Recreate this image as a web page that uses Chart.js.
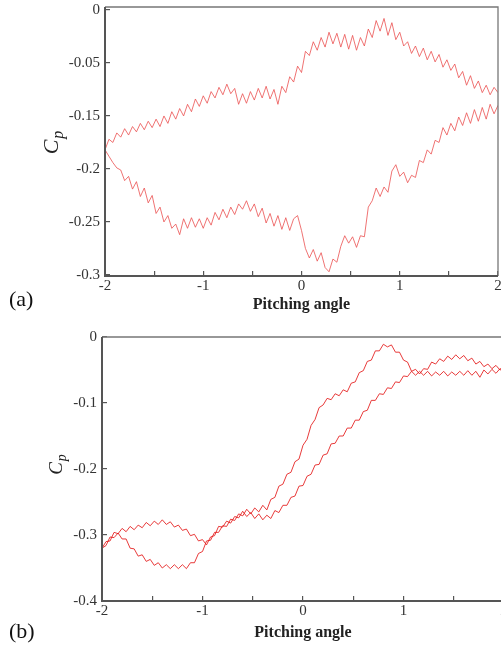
<!DOCTYPE html>
<html><head><meta charset="utf-8">
<script src="https://cdn.jsdelivr.net/npm/chart.js@4/dist/chart.umd.min.js"></script>
<style>
html,body{margin:0;padding:0;background:#fff;width:501px;height:648px;overflow:hidden;position:relative}
#ca{position:absolute;left:0;top:0}
#cb{position:absolute;left:0;top:320px}
</style></head><body>
<canvas id="ca" width="501" height="320"></canvas>
<canvas id="cb" width="506" height="328"></canvas>
<script>
// ---------- data ----------
const pitchAngles = Array.from({length:101}, (_, i) => +(-2 + i * 0.04).toFixed(2));

const cpA_upper = [
-0.182,-0.172,-0.175,-0.166,-0.170,-0.162,-0.168,-0.160,-0.165,-0.157,
-0.163,-0.155,-0.161,-0.153,-0.160,-0.150,-0.157,-0.146,-0.153,-0.143,
-0.150,-0.139,-0.146,-0.134,-0.141,-0.131,-0.138,-0.127,-0.133,-0.123,
-0.130,-0.120,-0.129,-0.124,-0.139,-0.129,-0.138,-0.127,-0.135,-0.124,
-0.133,-0.122,-0.134,-0.125,-0.139,-0.122,-0.128,-0.113,-0.118,-0.103,
-0.109,-0.089,-0.093,-0.080,-0.088,-0.076,-0.085,-0.071,-0.082,-0.072,
-0.085,-0.073,-0.087,-0.074,-0.088,-0.076,-0.084,-0.068,-0.076,-0.060,
-0.070,-0.058,-0.074,-0.062,-0.078,-0.071,-0.084,-0.080,-0.091,-0.084,
-0.094,-0.086,-0.097,-0.089,-0.099,-0.092,-0.104,-0.097,-0.107,-0.101,
-0.114,-0.108,-0.121,-0.112,-0.124,-0.117,-0.128,-0.121,-0.130,-0.123,
-0.128];

const cpA_lower = [
-0.182,-0.188,-0.194,-0.199,-0.201,-0.211,-0.207,-0.219,-0.212,-0.226,
-0.218,-0.232,-0.225,-0.242,-0.236,-0.250,-0.244,-0.256,-0.252,-0.262,
-0.247,-0.256,-0.246,-0.255,-0.247,-0.256,-0.246,-0.253,-0.241,-0.248,
-0.238,-0.246,-0.236,-0.243,-0.233,-0.238,-0.230,-0.240,-0.233,-0.245,
-0.237,-0.251,-0.242,-0.254,-0.244,-0.257,-0.246,-0.258,-0.247,-0.244,
-0.258,-0.275,-0.284,-0.276,-0.287,-0.279,-0.293,-0.297,-0.285,-0.288,
-0.273,-0.263,-0.270,-0.264,-0.274,-0.263,-0.264,-0.236,-0.230,-0.218,
-0.226,-0.217,-0.222,-0.202,-0.196,-0.207,-0.203,-0.213,-0.206,-0.208,
-0.192,-0.194,-0.182,-0.186,-0.173,-0.175,-0.161,-0.168,-0.157,-0.164,
-0.151,-0.159,-0.147,-0.157,-0.144,-0.155,-0.142,-0.153,-0.139,-0.148,
-0.140];

const cpB_branch1 = [
-0.320,-0.310,-0.309,-0.296,-0.298,-0.290,-0.295,-0.287,-0.292,-0.285,
-0.289,-0.281,-0.286,-0.279,-0.284,-0.277,-0.284,-0.280,-0.288,-0.285,
-0.293,-0.291,-0.301,-0.299,-0.309,-0.307,-0.315,-0.303,-0.301,-0.287,
-0.288,-0.279,-0.282,-0.272,-0.274,-0.264,-0.272,-0.266,-0.275,-0.268,
-0.277,-0.270,-0.275,-0.263,-0.266,-0.255,-0.255,-0.243,-0.241,-0.226,
-0.225,-0.211,-0.208,-0.194,-0.193,-0.179,-0.177,-0.162,-0.161,-0.150,
-0.150,-0.138,-0.138,-0.126,-0.126,-0.113,-0.111,-0.096,-0.096,-0.086,
-0.087,-0.077,-0.078,-0.068,-0.069,-0.059,-0.060,-0.052,-0.058,-0.052,
-0.058,-0.052,-0.059,-0.053,-0.058,-0.052,-0.059,-0.053,-0.058,-0.052,
-0.058,-0.051,-0.058,-0.052,-0.061,-0.050,-0.056,-0.049,-0.055,-0.048,
-0.050];

const cpB_branch2 = [
-0.320,-0.316,-0.303,-0.304,-0.297,-0.306,-0.306,-0.320,-0.321,-0.332,
-0.330,-0.340,-0.337,-0.346,-0.342,-0.350,-0.345,-0.351,-0.345,-0.351,
-0.345,-0.351,-0.342,-0.342,-0.328,-0.325,-0.309,-0.308,-0.296,-0.296,
-0.286,-0.287,-0.276,-0.278,-0.268,-0.271,-0.261,-0.268,-0.259,-0.265,
-0.255,-0.262,-0.246,-0.243,-0.226,-0.223,-0.208,-0.205,-0.189,-0.185,
-0.164,-0.155,-0.134,-0.125,-0.107,-0.103,-0.093,-0.095,-0.086,-0.089,
-0.080,-0.083,-0.070,-0.068,-0.054,-0.051,-0.037,-0.035,-0.021,-0.021,
-0.011,-0.015,-0.012,-0.023,-0.023,-0.035,-0.038,-0.052,-0.049,-0.056,
-0.048,-0.049,-0.038,-0.041,-0.033,-0.037,-0.029,-0.034,-0.027,-0.033,
-0.028,-0.036,-0.032,-0.041,-0.037,-0.045,-0.041,-0.048,-0.043,-0.050,
-0.048];

const xTickValues = [-2,-1.5,-1,-0.5,0,0.5,1,1.5,2];
const xTickLabels = ['-2','','-1','','0','','1','','2'];
const aTickValues = [-0.3,-0.25,-0.2,-0.15,-0.1,-0.05];
const aTickLabels = ['-0.3','-0.25','-0.2','-0.15','-0.05','0'];
const bTickValues = [-0.4,-0.3,-0.2,-0.1,0];
const bTickLabels = ['-0.4','-0.3','-0.2','-0.1','0'];

// ---------- helpers ----------
const SERIF = '"Liberation Serif","Times New Roman",serif';
const pts = arr => pitchAngles.map((x, i) => ({x, y: arr[i]}));

const frameAndLabels = {
  id: 'frameAndLabels',
  afterDraw(chart, args, o) {
    const {ctx, chartArea: a} = chart;
    ctx.save();
    ctx.strokeStyle = '#777';
    ctx.lineWidth = 1.3;
    ctx.beginPath();
    ctx.moveTo(a.left, a.top); ctx.lineTo(a.right, a.top); ctx.lineTo(a.right, a.bottom);
    ctx.stroke();
    ctx.strokeStyle = '#555';
    ctx.lineWidth = 2;
    ctx.beginPath();
    ctx.moveTo(a.left, a.top); ctx.lineTo(a.left, a.bottom); ctx.lineTo(a.right, a.bottom);
    ctx.stroke();
    ctx.restore();
    // y title C_p
    ctx.save();
    ctx.translate(o.cpX, o.cpY);
    ctx.rotate(-Math.PI / 2);
    ctx.fillStyle = '#222';
    ctx.textBaseline = 'middle';
    const big = `italic ${o.cpSize}px ${SERIF}`;
    const small = `italic ${Math.round(o.cpSize * 0.72)}px ${SERIF}`;
    ctx.font = big; const wC = ctx.measureText('C').width;
    ctx.font = small; const wP = ctx.measureText('p').width;
    const x0 = -(wC + wP) / 2;
    ctx.font = big; ctx.fillText('C', x0, 0);
    ctx.font = small; ctx.fillText('p', x0 + wC + 1, o.cpSize * 0.3);
    ctx.restore();
    // panel label
    ctx.save();
    ctx.font = `${o.panelSize}px ${SERIF}`;
    ctx.fillStyle = '#111';
    ctx.textBaseline = 'middle';
    ctx.fillText(o.panelText, o.panelX, o.panelY);
    ctx.restore();
  }
};

function makeChart(id, cfg) {
  return new Chart(document.getElementById(id), {
    type: 'line',
    data: {
      datasets: cfg.series.map(s => ({
        data: pts(s), borderColor: cfg.color, borderWidth: 1,
        pointRadius: 0, tension: 0, fill: false
      }))
    },
    options: {
      responsive: false, animation: false, devicePixelRatio: 1,
      layout: {padding: cfg.padding},
      plugins: {legend: {display: false}, tooltip: {enabled: false},
        frameAndLabels: cfg.labels},
      scales: {
        x: {
          type: 'linear', position: 'bottom', min: -2, max: 2,
          afterBuildTicks: s => { s.ticks = xTickValues.map(v => ({value: v})); },
          afterFit: s => { s.height = cfg.xHeight; s.paddingLeft = 0; s.paddingRight = 0; },
          grid: {drawOnChartArea: false, drawTicks: true, tickLength: -5, color: '#555', lineWidth: 1.2},
          border: {display: false},
          ticks: {autoSkip: false, maxRotation: 0, padding: 6, color: '#333',
            font: {family: SERIF, size: 15},
            callback: (v, i) => xTickLabels[i]},
          title: {display: true, text: 'Pitching angle', color: '#222',
            font: {family: SERIF, size: 16, weight: 'bold'}, padding: {top: 0, bottom: 6}}
        },
        y: {
          type: 'linear', position: 'left', min: cfg.yMin, max: cfg.yMax,
          afterBuildTicks: s => { s.ticks = cfg.yVals.map(v => ({value: v})); },
          afterFit: s => { s.width = cfg.yWidth; s.paddingTop = 0; s.paddingBottom = 0; },
          grid: {drawOnChartArea: false, drawTicks: true, tickLength: -5, color: '#555', lineWidth: 1.2},
          border: {display: false},
          ticks: {autoSkip: false, padding: 10, color: '#333',
            font: {family: SERIF, size: 15},
            callback: (v, i) => cfg.yLabels[i]}
        }
      }
    },
    plugins: [frameAndLabels]
  });
}

makeChart('ca', {
  series: [cpA_upper, cpA_lower], color: 'rgba(235,80,80,0.8)',
  padding: {top: 7, right: 3, bottom: 0, left: 0},
  xHeight: 44, yWidth: 105, yMin: -0.301, yMax: -0.0472,
  yVals: aTickValues, yLabels: aTickLabels,
  labels: {cpX: 52, cpY: 143, cpSize: 22, panelText: '(a)', panelX: 9, panelY: 300, panelSize: 22}
});

makeChart('cb', {
  series: [cpB_branch1, cpB_branch2], color: 'rgba(228,25,25,0.85)',
  padding: {top: 17, right: 2, bottom: 0, left: 0},
  xHeight: 47, yWidth: 102, yMin: -0.4, yMax: 0,
  yVals: bTickValues, yLabels: bTickLabels,
  labels: {cpX: 57, cpY: 145, cpSize: 19, panelText: '(b)', panelX: 9, panelY: 312, panelSize: 22}
});
</script>
</body></html>
